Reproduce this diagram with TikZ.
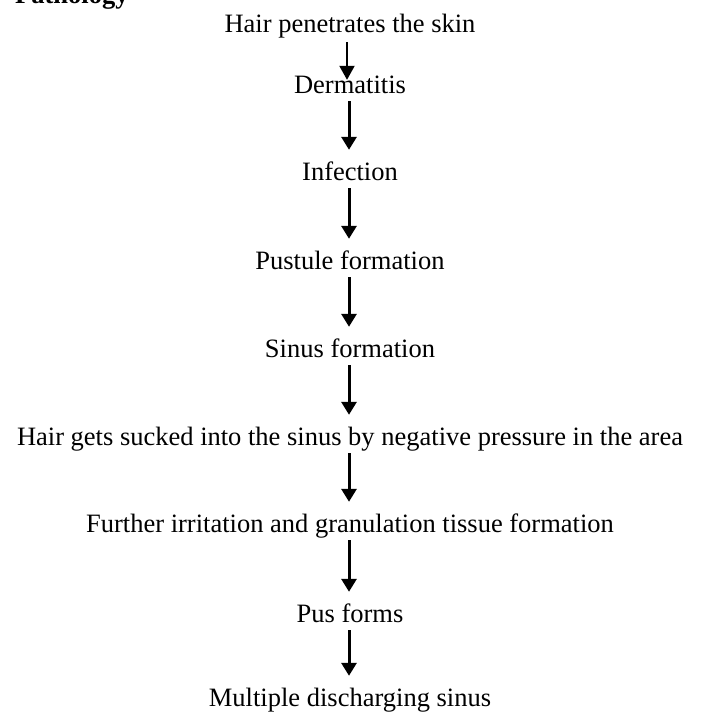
\documentclass[tikz,border=0pt]{standalone}
\usepackage{fontspec}
\setmainfont{Liberation Serif}
\usetikzlibrary{arrows.meta}
\begin{document}
\begin{tikzpicture}[x=1pt,y=1pt,
  lbl/.style={anchor=base,inner sep=0pt,text height=18pt,text depth=6pt,font=\fontsize{26.5}{30}\selectfont},
  arr/.style={line width=3pt,-{Triangle[width=15pt,length=13pt]}},
  arrthin/.style={line width=2pt,-{Triangle[width=15pt,length=14pt]}}]
\useasboundingbox (0,0) rectangle (704,-715);
\begin{scope}
\clip (0,0) rectangle (704,-715);
\node[anchor=base west,inner sep=0pt,font=\fontsize{26.5}{30}\selectfont\bfseries] (title) at (15,-3) {Pathology};
\end{scope}
\node[lbl] (n1) at (350,-32) {Hair penetrates the skin};
\node[lbl] (n2) at (350,-93) {Dermatitis};
\node[lbl] (n3) at (350,-180) {Infection};
\node[lbl] (n4) at (350,-269) {Pustule formation};
\node[lbl] (n5) at (350,-357) {Sinus formation};
\node[lbl] (n6) at (350,-445) {Hair gets sucked into the sinus by negative pressure in the area};
\node[lbl] (n7) at (350,-532) {Further irritation and granulation tissue formation};
\node[lbl] (n8) at (350,-622) {Pus forms};
\node[lbl] (n9) at (350,-706) {Multiple discharging sinus};
\draw[arrthin] ([xshift=-3pt,yshift=-4pt]n1.south) -- ([xshift=-3pt,yshift=-5pt]n2.north);
\foreach \a/\b in {n2/n3,n3/n4,n4/n5,n5/n6,n6/n7,n7/n8,n8/n9}
  \draw[arr] ([xshift=-1pt,yshift=-2pt]\a.south) -- ([xshift=-1pt,yshift=12pt]\b.north);
\end{tikzpicture}
\end{document}
